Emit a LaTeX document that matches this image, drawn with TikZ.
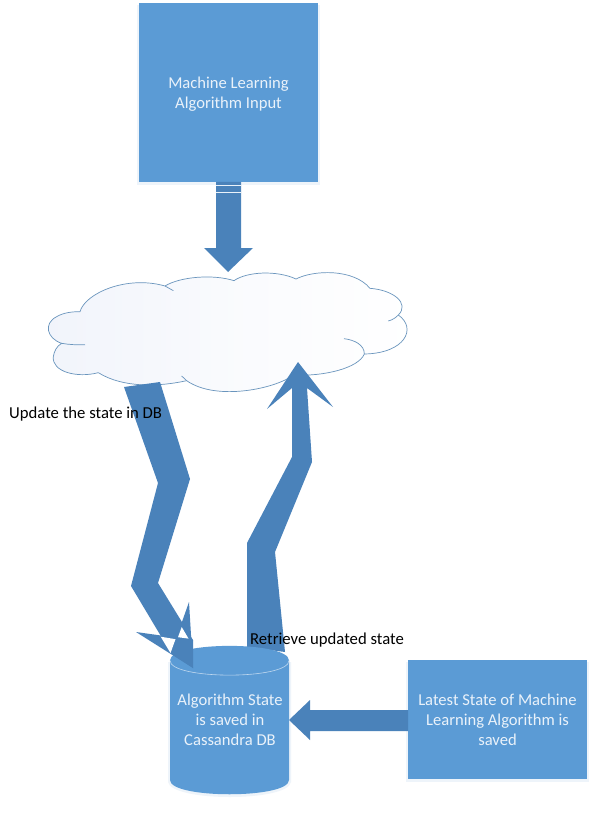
\documentclass[tikz,border=0pt]{standalone}
\usepackage{fontspec}
\setmainfont{Carlito}
\definecolor{boxblue}{HTML}{5B9BD5}
\definecolor{arrowblue}{HTML}{4A82BA}
\definecolor{cloudline}{HTML}{6A95BD}
\definecolor{cloudleft}{HTML}{F1F4FB}
\definecolor{boxtext}{HTML}{EAF2FA}
\definecolor{glow}{HTML}{EEF4FA}
\tikzset{
  boxnode/.style={fill=boxblue,text=boxtext,align=center,inner sep=0pt,font=\fontsize{16.6}{20}\selectfont},
  cylindertext/.style={text=boxtext,align=center,inner sep=0pt,font=\fontsize{16.6}{20}\selectfont},
  labelnode/.style={text=black,inner sep=0pt,anchor=west,font=\fontsize{16.7}{20}\selectfont},
  arrowshape/.style={fill=arrowblue},
  cloudstroke/.style={draw=cloudline,line width=0.7pt}
}
\begin{document}
\begin{tikzpicture}[x=1pt,y=-1pt]
\useasboundingbox (0,0) rectangle (594,813);
\fill[white] (0,0) rectangle (594,813);
% glows
\fill[glow] (137,5) rectangle (320,185);
\fill[glow] (406,662) rectangle (589,782);
% boxes
\node[boxnode,minimum width=179pt,minimum height=179pt] (input) at (228.5,92.5) {};
\node[cylindertext] (inputtext) at (228.5,94.5) {Machine Learning\\Algorithm Input};
\node[boxnode,minimum width=179pt,minimum height=119pt] (latest) at (497.5,719.5) {Latest State of Machine\\Learning Algorithm is\\saved};
% cloud
\begin{scope}[shift={(30,260)},scale=1/3]
\shade[left color=cloudleft,right color=white,middle color=white!60!cloudleft,cloudstroke]
 (150,155) .. controls (165,100) and (290,45) .. (405,78)
 .. controls (450,50) and (550,42) .. (612,62)
 .. controls (650,35) and (740,30) .. (798,57)
 .. controls (850,30) and (970,25) .. (1020,85)
 .. controls (1090,90) and (1140,130) .. (1105,165)
 .. controls (1162,205) and (1125,280) .. (1003,282)
 .. controls (985,325) and (880,350) .. (790,345)
 .. controls (740,385) and (560,425) .. (470,362)
 .. controls (390,380) and (280,385) .. (205,338)
 .. controls (140,355) and (65,335) .. (70,290)
 .. controls (72,275) and (80,258) .. (95,250)
 .. controls (50,235) and (40,190) .. (80,170)
 .. controls (100,158) and (125,155) .. (150,155) -- cycle;
\draw[cloudstroke] (405,78) -- (430,92);
\draw[cloudstroke] (1105,165) .. controls (1098,172) and (1088,180) .. (1075,183);
\draw[cloudstroke] (942,236) .. controls (975,240) and (1003,255) .. (1003,282);
\draw[cloudstroke] (470,362) -- (455,348);
\draw[cloudstroke] (95,250) .. controls (118,254) and (140,255) .. (165,254);
\end{scope}
% down arrow
\fill[arrowshape] (216,182) -- (241,182) -- (241,248) -- (253,248) -- (228,272) -- (204,248) -- (216,248) -- cycle;
\draw[boxtext,line width=0.8pt] (216,185) -- (241,185);
\draw[boxtext,line width=0.8pt] (216,192) -- (241,192);
% up arrow
\fill[arrowshape] (247,647) -- (247,543) -- (292,457) -- (292,388) -- (267,409) -- (298,362) -- (333,407) -- (307,388) -- (312,462) -- (275,552) -- (285,652) -- cycle;
% cylinder
\fill[glow] (168,662) -- (168,782) .. controls (172,802) and (288,802) .. (291,782) -- (291,662) -- cycle;
\path[fill=boxblue] (170,660.5) .. controls (170,641) and (289,641) .. (289,660.5) -- (289,780) .. controls (289,799) and (170,799) .. (170,780) -- cycle;
\draw[boxtext!70!boxblue,line width=0.6pt] (170,660.5) .. controls (170,680) and (289,680) .. (289,660.5);
\node[cylindertext] (state) at (230,720) {Algorithm State\\is saved in\\Cassandra DB};
% left arrow
\fill[arrowshape] (408,710) -- (310,710) -- (310,700) -- (289,720) -- (310,740) -- (310,731) -- (408,731) -- cycle;
% update arrow: shaft, the two crossed head wings, and the gaps where they cross
\fill[arrowshape] (124,387) -- (160,382) -- (190,479) -- (158,583) -- (193,640) -- (171,653) -- (131,586) -- (158,483) -- cycle;
\fill[arrowshape] (136,632) -- (193,640) -- (193,668) -- cycle;
\fill[arrowshape] (171,653) -- (189,602) -- (193,668) -- cycle;
\fill[white] (160.7,636.7) -- (175.5,639.2) -- (170.5,653) -- cycle;
\fill[white] (181.7,627) -- (188.5,638.6) -- (178,637.2) -- cycle;
% labels
\node[labelnode] (update) at (9,414) {Update the state in DB};
\node[labelnode] (retrieve) at (250,640) {Retrieve updated state};
\end{tikzpicture}
\end{document}
